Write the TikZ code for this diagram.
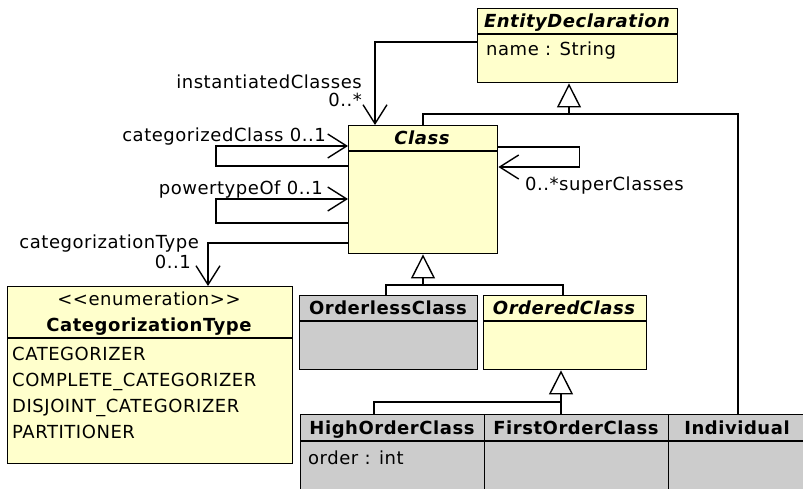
\documentclass[tikz,border=0pt]{standalone}
\usepackage{fontspec}
\setmainfont{DejaVu Sans}[LetterSpace=3]
\usetikzlibrary{arrows.meta,calc}
\definecolor{umlyellow}{RGB}{255,255,204}
\definecolor{umlgray}{RGB}{204,204,204}
\newcommand{\umlfont}{\fontsize{18}{21}\selectfont}

\begin{document}
\begin{tikzpicture}[x=1pt,y=-1pt]
	\tikzstyle{umlclass}=[draw,line width=1.4pt,anchor=north west,inner sep=0pt]
	\tikzstyle{abstract}=[umlclass,fill=umlyellow]
	\tikzstyle{concrete}=[umlclass,fill=umlgray]
	\tikzstyle{umltext}=[font=\umlfont,inner sep=0pt,text height=13pt,text depth=0pt]
	\tikzstyle{classname}=[umltext,font=\umlfont\bfseries]
	\tikzstyle{abstractname}=[umltext,font=\umlfont\bfseries\itshape]
	\tikzstyle{member}=[umltext,anchor=west]
	\tikzstyle{rolelabel}=[umltext,anchor=east]
	\tikzstyle{link}=[line width=1.4pt]
	\tikzstyle{assoc}=[link,-{Straight Barb[length=19pt,width=24pt]}]
	\tikzstyle{gen}=[link,-{Triangle[open,length=24pt,width=24pt]}]

	\useasboundingbox (0,0) rectangle (803,488);
	\clip (0,0) rectangle (803,488);

	\node[abstract,minimum width=200pt,minimum height=74pt] (entity) at (477,8) {};
	\node[abstract,minimum width=149pt,minimum height=128pt] (class) at (348,125) {};
	\node[abstract,minimum width=285pt,minimum height=177pt] (enum) at (7,286) {};
	\node[concrete,minimum width=178pt,minimum height=74pt] (orderless) at (299,295) {};
	\node[abstract,minimum width=163pt,minimum height=74pt] (ordered) at (483,295) {};
	\node[concrete,minimum width=184pt,minimum height=90pt] (highorder) at (300,414) {};
	\node[concrete,minimum width=184pt,minimum height=90pt] (firstorder) at (484,414) {};
	\node[concrete,minimum width=140pt,minimum height=90pt] (individual) at (668,414) {};

	\foreach \cls/\hd in {entity/26,class/26,enum/52,orderless/26,ordered/26,highorder/27,firstorder/27,individual/27}
		\draw[link] ($(\cls.north west)+(0,\hd)$) -- ($(\cls.north east)+(0,\hd)$);

	\node[abstractname] (entityname) at (577,21) {EntityDeclaration};
	\node[member] (entityattr) at (486,49) {name : String};
	\node[abstractname] (classname) at (422,138) {Class};
	\node[umltext] (enumstereo) at (149,299) {{<}{<}enumeration{>}{>}};
	\node[classname] (enumname) at (149,325) {CategorizationType};
	\node[member] (categorizer) at (12,354) {CATEGORIZER};
	\node[member] (complete) at (12,380) {COMPLETE\_CATEGORIZER};
	\node[member] (disjoint) at (12,406) {DISJOINT\_CATEGORIZER};
	\node[member] (partitioner) at (12,432) {PARTITIONER};
	\node[classname] (orderlessname) at (388,308) {OrderlessClass};
	\node[abstractname] (orderedname) at (564,308) {OrderedClass};
	\node[classname] (highordername) at (392,428) {HighOrderClass};
	\node[member] (orderattr) at (308,458) {order : int};
	\node[classname] (firstordername) at (576,428) {FirstOrderClass};
	\node[classname] (individualname) at (737,428) {Individual};

	\node[rolelabel] (instlabel) at (362,82) {instantiatedClasses};
	\node[rolelabel] (instmult) at (362,100) {0..*};
	\node[rolelabel] (catclasslabel) at (326,135) {categorizedClass 0..1};
	\node[rolelabel] (powerlabel) at (323,188) {powertypeOf 0..1};
	\node[rolelabel] (cattypelabel) at (199,242) {categorizationType};
	\node[rolelabel] (cattypemult) at (191,262) {0..1};
	\node[member] (superlabel) at (525,184) {0..*superClasses};

	\draw[assoc] ($(entity.north west)+(0,34)$) -| ($(class.north west)+(27,0)$);
	\draw[assoc] ($(class.north west)+(0,41)$) -- ++(-132,0) |- ($(class.north west)+(0,21)$);
	\draw[assoc] ($(class.north west)+(0,98)$) -- ++(-132,0) |- ($(class.north west)+(0,74)$);
	\draw[assoc] ($(class.north west)+(0,118)$) -| ($(enum.north west)+(201,0)$);
	\draw[assoc] ($(class.north east)+(0,22)$) -- ++(81,0) |- ($(class.north east)+(0,42)$);

	\coordinate (edjoin) at (569,114);
	\coordinate (classjoin) at (423,285);
	\coordinate (orderedjoin) at (561,402);
	\draw[gen] (edjoin) -- (edjoin |- entity.south);
	\draw[link] ($(class.north west)+(75,0)$) |- (edjoin) -| ($(individual.north west)+(70,0)$);
	\draw[gen] (classjoin) -- (classjoin |- class.south);
	\draw[link] ($(orderless.north west)+(87,0)$) |- (classjoin) -| ($(ordered.north west)+(80,0)$);
	\draw[gen] (orderedjoin) -- (orderedjoin |- ordered.south);
	\draw[link] ($(highorder.north west)+(74,0)$) |- (orderedjoin) -- (orderedjoin |- firstorder.north);
\end{tikzpicture}
\end{document}
